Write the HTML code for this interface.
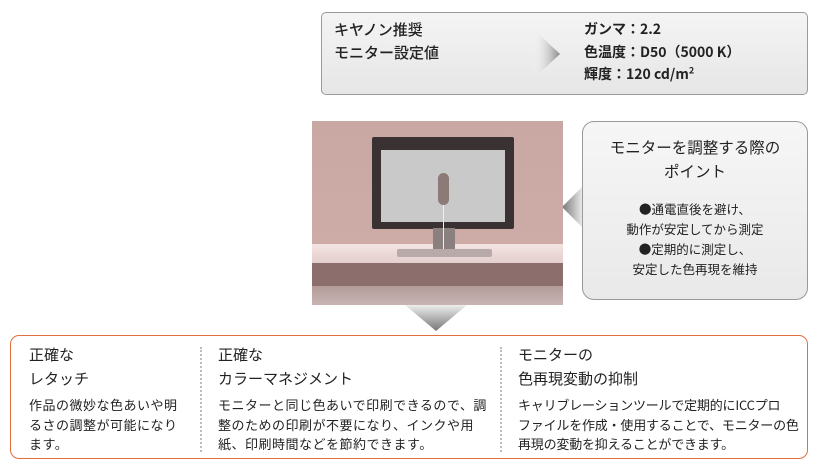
<!DOCTYPE html>
<html><head><meta charset="utf-8"><style>
*{margin:0;padding:0;box-sizing:border-box}
body{width:820px;height:470px;background:#fff;position:relative;overflow:hidden;font-family:"Liberation Sans","Noto Sans CJK JP",sans-serif;color:#222}
.a{position:absolute}
.j{font-family:"Noto Sans CJK JP",sans-serif}
</style></head><body>
<div class="a" style="left:321px;top:12px;width:487px;height:83px;border:1px solid #9a9a9a;border-radius:5px;background:linear-gradient(#f4f4f4,#e6e6e6)"></div>
<svg class="a" style="left:0;top:0" width="820" height="470">
<defs>
<linearGradient id="g1" x1="0" x2="1"><stop offset="0" stop-color="#fff" stop-opacity="0"/><stop offset="1" stop-color="#888"/></linearGradient>
<linearGradient id="g2" x1="0" y1="0" x2="0" y2="1"><stop offset="0" stop-color="#eee"/><stop offset="1" stop-color="#777"/></linearGradient>
<linearGradient id="g3" x1="1" x2="0"><stop offset="0" stop-color="#eee"/><stop offset="1" stop-color="#777"/></linearGradient>
</defs>
<polygon points="532,28 560,54 532,80" fill="url(#g1)"/>
<polygon points="405,305 467,305 436,331" fill="url(#g2)"/>
<polygon points="583,186 583,228 562,207" fill="url(#g3)"/>
</svg>
<div class="a j" style="left:334px;top:18px;font-size:15px;line-height:23px;font-weight:500">キヤノン推奨<br>モニター設定値</div>
<div class="a j" style="left:584px;top:18px;font-size:14px;line-height:22.5px;font-weight:bold">ガンマ：2.2<br>色温度：D50（5000 K）<br>輝度：120 cd/m<sup style="font-size:9px;line-height:0">2</sup></div>

<div class="a" style="left:312px;top:121px;width:251px;height:184px;background:linear-gradient(#c9a7a3,#cfaeaa);overflow:hidden">
 <div class="a" style="left:0;top:123px;width:251px;height:19px;background:linear-gradient(#f3e4e2,#e4cfcd)"></div>
 <div class="a" style="left:0;top:142px;width:251px;height:23px;background:#8c6e6c"></div>
 <div class="a" style="left:0;top:165px;width:251px;height:19px;background:linear-gradient(#b39c9a,#c8b5b3)"></div>
 <div class="a" style="left:60px;top:16px;width:142px;height:92px;background:#3a3232;border-radius:2px"></div>
 <div class="a" style="left:69px;top:29px;width:124px;height:72px;background:#c9c9c9"></div>
 <div class="a" style="left:121px;top:107px;width:22px;height:22px;background:#8a8080"></div>
 <div class="a" style="left:85px;top:128px;width:95px;height:8px;background:#b8aaa8;border-radius:2px"></div>
 <div class="a" style="left:126px;top:52px;width:11px;height:32px;background:#8c7a78;border-radius:6px"></div>
 <div class="a" style="left:131px;top:84px;width:1px;height:44px;background:#eee"></div>
</div>

<div class="a" style="left:582px;top:121px;width:226px;height:179px;border:1px solid #999;border-radius:12px;background:linear-gradient(#f6f6f6,#e9e9e9)"></div>
<div class="a j" style="left:582px;top:135px;width:226px;text-align:center;font-size:15.5px;line-height:24px">モニターを調整する際の<br>ポイント</div>
<div class="a j" style="left:582px;top:199px;width:226px;text-align:center;font-size:12.5px;line-height:20px">●通電直後を避け、<br>動作が安定してから測定<br>●定期的に測定し、<br>安定した色再現を維持</div>

<div class="a" style="left:10px;top:335px;width:798px;height:124px;border:1.5px solid #e2703f;border-radius:9px"></div>
<div class="a" style="left:200px;top:347px;height:105px;border-left:2px dotted #bbb"></div>
<div class="a" style="left:500px;top:347px;height:105px;border-left:2px dotted #bbb"></div>
<div class="a j" style="left:29px;top:343px;font-size:15px;line-height:24px">正確な<br>レタッチ</div>
<div class="a j" style="left:218px;top:343px;font-size:15px;line-height:24px">正確な<br>カラーマネジメント</div>
<div class="a j" style="left:518px;top:343px;font-size:15px;line-height:24px">モニターの<br>色再現変動の抑制</div>
<div class="a j" style="left:29px;top:395px;width:160px;font-size:13px;line-height:19.5px;letter-spacing:0.5px">作品の微妙な色あいや明るさの調整が可能になります。</div>
<div class="a j" style="left:218px;top:395px;width:276px;font-size:13px;line-height:19.5px;letter-spacing:0.5px">モニターと同じ色あいで印刷できるので、調整のための印刷が不要になり、インクや用紙、印刷時間などを節約できます。</div>
<div class="a j" style="left:518px;top:395px;white-space:nowrap;font-size:13px;line-height:19.5px;letter-spacing:-0.2px">キャリブレーションツールで定期的にICCプロ<br>ファイルを作成・使用することで、モニターの色<br>再現の変動を抑えることができます。</div>
</body></html>
